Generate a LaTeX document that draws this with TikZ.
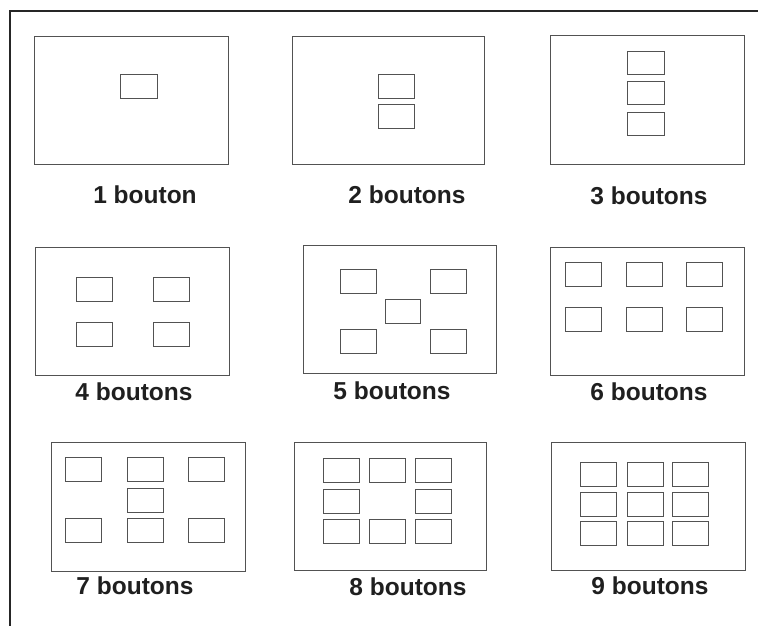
\documentclass[tikz,border=0pt]{standalone}
\usepackage{fontspec}
\setmainfont{Liberation Sans}
\begin{document}
\begin{tikzpicture}[x=1pt,y=-1pt,
  frameline/.style={draw=black!85,line width=2pt},
  panel/.style={draw=black!68,line width=0.9pt},
  btn/.style={draw=black!68,line width=0.9pt},
  lbl/.style={anchor=base,inner sep=0pt,text=black!88,font=\fontsize{24.5}{28}\selectfont\bfseries}]
\useasboundingbox (0,0) rectangle (758,626);
% outer frame (only top and left edges visible)
\coordinate (fTR) at (758,11);
\coordinate (fTL) at (10,11);
\coordinate (fBL) at (10,626);
\draw[frameline] (fTR) -- (fTL) -- (fBL);

% panels
\draw[panel] (34,36) rectangle (228,164);
\draw[panel] (292,36) rectangle (484,164);
\draw[panel] (550,35) rectangle (744,164);
\draw[panel] (35,247) rectangle (229,375);
\draw[panel] (303,245) rectangle (496,373);
\draw[panel] (550,247) rectangle (744,375);
\draw[panel] (51,442) rectangle (245,571);
\draw[panel] (294,442) rectangle (486,570);
\draw[panel] (551,442) rectangle (745,570);

% 1 bouton
\draw[btn] (120,74) rectangle (157,98);
% 2 boutons
\foreach \y in {74,104} \draw[btn] (378,\y) rectangle ++(36,24);
% 3 boutons
\foreach \y in {51,81,112} \draw[btn] (627,\y) rectangle ++(37,23);
% 4 boutons
\foreach \x in {76,153} \foreach \y in {277,322} \draw[btn] (\x,\y) rectangle ++(36,24);
% 5 boutons
\foreach \x in {340,430} \foreach \y in {269,329} \draw[btn] (\x,\y) rectangle ++(36,24);
\draw[btn] (385,299) rectangle ++(35,24);
% 6 boutons
\foreach \x in {565,626,686} \foreach \y in {262,307} \draw[btn] (\x,\y) rectangle ++(36,24);
% 7 boutons
\foreach \x in {65,127,188} \foreach \y in {457,518} \draw[btn] (\x,\y) rectangle ++(36,24);
\draw[btn] (127,488) rectangle ++(36,24);
% 8 boutons
\foreach \x in {323,369,415} \foreach \y in {458,519} \draw[btn] (\x,\y) rectangle ++(36,24);
\foreach \x in {323,415} \draw[btn] (\x,489) rectangle ++(36,24);
% 9 boutons
\foreach \x in {580,627,672} \foreach \y in {462,492,521} \draw[btn] (\x,\y) rectangle ++(36,24);

% labels
\node[lbl] (l1) at (145,203) {1 bouton};
\node[lbl] (l2) at (407,203) {2 boutons};
\node[lbl] (l3) at (649,204) {3 boutons};
\node[lbl] (l4) at (134,400) {4 boutons};
\node[lbl] (l5) at (392,399) {5 boutons};
\node[lbl] (l6) at (649,400) {6 boutons};
\node[lbl] (l7) at (135,594) {7 boutons};
\node[lbl] (l8) at (408,595) {8 boutons};
\node[lbl] (l9) at (650,594) {9 boutons};
\end{tikzpicture}
\end{document}
